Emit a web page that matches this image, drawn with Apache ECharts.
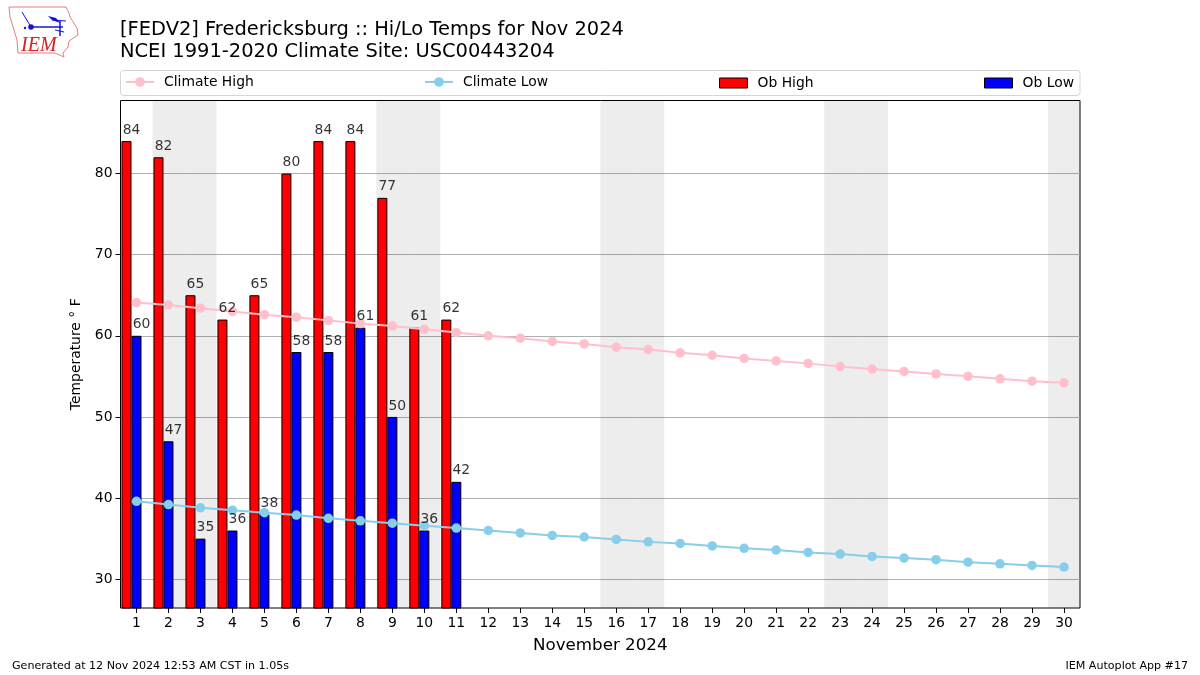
<!DOCTYPE html>
<html><head><meta charset="utf-8">
<style>html,body{margin:0;padding:0;background:#fff}#c{width:1200px;height:675px}</style>
<script src="https://cdn.jsdelivr.net/npm/echarts@6/dist/echarts.min.js"></script>
</head><body><div id="c"></div>
<script>
const days = ['1','2','3','4','5','6','7','8','9','10','11','12','13','14','15','16','17','18','19','20','21','22','23','24','25','26','27','28','29','30'];
const obHigh = [84,82,65,62,65,80,84,84,77,61,62];
const obLow = [60,47,35,36,38,58,58,61,50,36,42];
const climateHigh = [64.1,63.8,63.4,63.0,62.6,62.3,61.9,61.5,61.2,60.8,60.4,60.0,59.7,59.3,59.0,58.6,58.3,57.9,57.6,57.2,56.9,56.6,56.2,55.9,55.6,55.3,55.0,54.7,54.4,54.2];
const climateLow = [39.6,39.2,38.8,38.5,38.2,37.9,37.5,37.2,36.9,36.6,36.3,36.0,35.7,35.4,35.2,34.9,34.6,34.4,34.1,33.8,33.6,33.3,33.1,32.8,32.6,32.4,32.1,31.9,31.7,31.5];
const weekendDays = ['2','3','9','10','16','17','23','24','30'];
const yTicks = [30,40,50,60,70,80];
const FONT = '"DejaVu Sans", sans-serif';

const chart = echarts.init(document.getElementById('c'), null, {renderer:'canvas'});

const labelSeries = (name, values, offset) => ({
  name, type:'scatter', z:6, symbolSize:0, silent:true,
  data: values.map((v,i)=>[days[i],v]),
  label:{show:true, position:'top', distance:0, offset:offset,
    fontFamily:FONT, fontSize:13.9, color:'#000', textBorderWidth:0,
    formatter:p => p.value[1]}
});
const barStyle = c => ({color:c, borderColor:'#000', borderWidth:1});
const textStyle = {fontFamily:FONT, fontSize:13.9, color:'#000', padding:[0,0,0,5]};
const lineLegend = {top:75, orient:'horizontal', itemWidth:28, itemHeight:12, padding:0, textStyle};
const barLegend = {top:76, orient:'horizontal', itemWidth:28, itemHeight:10, padding:0, textStyle, itemStyle:{borderWidth:1, borderColor:'#000'}};

chart.setOption({
  animation:false,
  backgroundColor:'#fff',
  textStyle:{fontFamily:FONT},
  title:{left:120, top:19, padding:0, text:'[FEDV2] Fredericksburg :: Hi/Lo Temps for Nov 2024\nNCEI 1991-2020 Climate Site: USC00443204',
    textStyle:{fontFamily:FONT, fontSize:19.45, fontWeight:'normal', color:'#000', lineHeight:22}},
  legend:[
    Object.assign({left:125, data:['Climate High']}, lineLegend),
    Object.assign({left:424, data:['Climate Low']}, lineLegend),
    Object.assign({left:719, data:[{name:'Ob High', icon:'rect'}]}, barLegend),
    Object.assign({left:984, data:[{name:'Ob Low', icon:'rect'}]}, barLegend)
  ],
  grid:{left:120.5, top:100.5, width:959.5, height:507.5, show:true, borderColor:'#000', borderWidth:1, backgroundColor:'#fff', containLabel:false},
  xAxis:{type:'category', data:days, boundaryGap:true,
    name:'November 2024', nameLocation:'middle', nameGap:29,
    nameTextStyle:{fontFamily:FONT, fontSize:16.7, color:'#000'},
    axisLine:{show:false}, axisTick:{show:true, alignWithLabel:true, length:5, lineStyle:{color:'#000', width:1}},
    axisLabel:{fontFamily:FONT, fontSize:13.9, color:'#000', margin:8, interval:0},
    splitLine:{show:false}},
  yAxis:{type:'value', min:26.45, max:89,
    name:'Temperature \u00B0 F', nameLocation:'middle', nameGap:37, nameRotate:90,
    nameTextStyle:{fontFamily:FONT, fontSize:13.9, color:'#000'},
    axisLine:{show:false},
    axisTick:{show:true, length:5, lineStyle:{color:'#000', width:1}, customValues:yTicks},
    axisLabel:{fontFamily:FONT, fontSize:13.9, color:'#000', margin:8, padding:[2,0,0,0], customValues:yTicks},
    splitLine:{show:true, lineStyle:{color:'#b0b0b0', width:1}}},
  graphic:[
    {type:'rect', x:120.5, y:70.5, shape:{width:959.5, height:25, r:3}, style:{fill:'#fff', stroke:'#d5d5d5', lineWidth:1}, z:-1},
    {type:'polygon', shape:{points:[[9,7],[66,7],[69,13],[70,17],[77,28],[78,35],[69,41],[68,47],[63,53],[64,57],[55,53],[18,53],[17,40],[10,17]]}, style:{fill:'#fff', stroke:'#e08080', lineWidth:1}, silent:true},
    {type:'polyline', shape:{points:[[31,27],[63,27]]}, style:{stroke:'#1414d8', fill:null, lineWidth:1.5}, silent:true},
    {type:'circle', shape:{cx:31,cy:27,r:2.8}, style:{fill:'#1414d8'}, silent:true},
    {type:'polyline', shape:{points:[[22,12],[31,27]]}, style:{stroke:'#1414d8', fill:null, lineWidth:1}, silent:true},
    {type:'polygon', shape:{points:[[48,16],[56,18],[60,23],[52,20]]}, style:{fill:'#1414d8'}, silent:true},
    {type:'polyline', shape:{points:[[52,20],[66,21]]}, style:{stroke:'#1414d8', fill:null, lineWidth:1}, silent:true},
    {type:'polyline', shape:{points:[[60,21],[60,36]]}, style:{stroke:'#1414d8', fill:null, lineWidth:1.5}, silent:true},
    {type:'polyline', shape:{points:[[55,30],[64,32]]}, style:{stroke:'#1414d8', fill:null, lineWidth:1}, silent:true},
    {type:'circle', shape:{cx:25,cy:28,r:1.2}, style:{fill:'#1414d8'}, silent:true},
    {type:'text', x:21, y:36, style:{text:'IEM', fontFamily:'"Liberation Serif", serif', fontStyle:'italic', fontSize:20, fill:'#d42020'}, silent:true},
    {type:'text', left:12, top:661, style:{text:'Generated at 12 Nov 2024 12:53 AM CST in 1.05s', fontFamily:FONT, fontSize:11.1, fill:'#000'}},
    {type:'text', right:12, top:661, style:{text:'IEM Autoplot App #17', fontFamily:FONT, fontSize:11.1, fill:'#000', textAlign:'right'}}
  ],
  series:[
    {name:'Weekend', type:'custom', z:1, silent:true, data:weekendDays.map(d=>[d]),
      encode:{x:0},
      renderItem:(params,api)=>{
        const x = api.coord([api.value(0),0])[0];
        const w = api.size([1,0])[0];
        const cs = params.coordSys;
        return {type:'rect', shape:{x:x-w/2, y:cs.y, width:w, height:cs.height}, style:{fill:'rgba(0,0,0,0.07)'}};
      }},
    {name:'Ob High', type:'bar', z:2, barWidth:10, barGap:0, data:obHigh, itemStyle:barStyle('#ff0000')},
    {name:'Ob Low', type:'bar', z:2, barWidth:10, barGap:0, data:obLow, itemStyle:barStyle('#0000ff')},
    {name:'Offset', type:'bar', z:2, barWidth:10, barGap:0, data:[]},
    {name:'Climate High', type:'line', z:3, data:climateHigh, symbol:'circle', symbolSize:9.5, showSymbol:true,
      lineStyle:{color:'#ffc0cb', width:2}, itemStyle:{color:'#ffc0cb'}},
    {name:'Climate Low', type:'line', z:3, data:climateLow, symbol:'circle', symbolSize:9.5, showSymbol:true,
      lineStyle:{color:'#87ceeb', width:2}, itemStyle:{color:'#87ceeb'}},
    labelSeries('High Labels', obHigh, [-5,-4]),
    labelSeries('Low Labels', obLow, [5,-4])
  ]
});
</script></body></html>
